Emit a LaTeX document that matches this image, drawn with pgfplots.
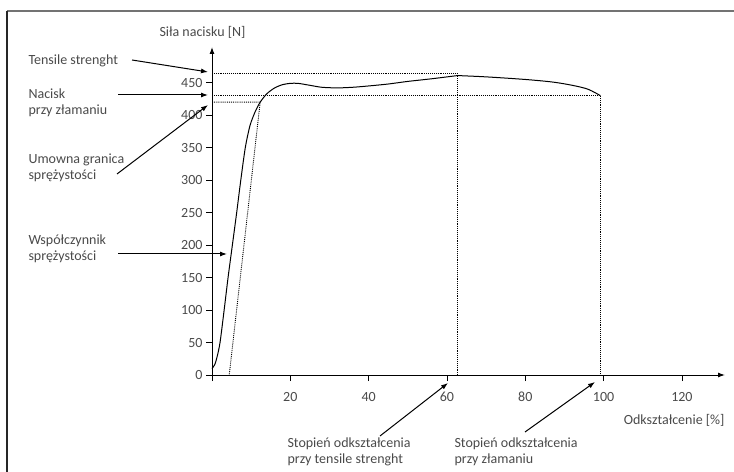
\documentclass[border=0pt]{standalone}
\usepackage{fontspec}
\setmainfont{Carlito}
\usepackage{pgfplots}
\pgfplotsset{compat=1.18}
\usetikzlibrary{arrows.meta}
\definecolor{txt}{HTML}{4A4A4A}
\begin{document}
\begin{tikzpicture}[font=\fontsize{14bp}{16bp}\selectfont]
\begin{scope}[x=1bp,y=-1bp,shift={(0,472bp)}]
\useasboundingbox (0,0) rectangle (734,472);
\draw[line width=1.3bp, black!55] (7,11) -- (734,11);
\draw[line width=1.3bp, black!85] (7,11) -- (7,472);
\end{scope}
\begin{axis}[
  at={(212bp,97bp)}, anchor=south west,
  scale only axis, width=513bp, height=328bp,
  xmin=0, xmax=131, ymin=0, ymax=505,
  axis lines=left, clip=false,
  axis line style={line width=1bp, -{Latex[length=7bp,width=5bp]}},
  xtick={0,20,40,60,80,100,120},
  xticklabels={,20,40,60,80,100,120},
  ytick={0,50,...,450},
  tick style={black, line width=0.8bp},
  major tick length=6bp, tick align=outside,
  tick label style={text=txt, font=\fontsize{14bp}{15bp}\selectfont},
  xticklabel style={anchor=north, text height=9.5bp, text depth=0bp, yshift=-7bp},
  /pgf/number format/assume math mode=true,
]
\addplot[black, line width=1bp, smooth, tension=0.45] coordinates {
(0,10) (0.7,16) (1.3,28) (2.05,50) (3.1,100) (4.1,150) (5.2,200) (6.3,250) (7.35,300) (8.5,350) (9.7,384) (11,405) (12.3,420) (14,433) (16,442) (18,447) (20,449) (22,449) (25,446) (28,443) (32,442) (36,443) (40,445) (45,448) (50,452) (56,456) (62.7,461)
};
\addplot[black, line width=1bp, smooth, tension=0.5] coordinates {
(62.7,461) (70,459) (80,455) (87,451) (92,446) (96,440) (99.2,430)
};
\addplot[black, densely dotted, line width=0.9bp] coordinates {(0,464) (62.7,464) (62.7,0)};
\addplot[black, densely dotted, line width=0.9bp] coordinates {(0,430) (99.2,430) (99.2,0)};
\addplot[black, densely dotted, line width=0.9bp] coordinates {(0,420) (12.3,420) (4.4,0)};
\end{axis}
\begin{scope}[x=1bp,y=-1bp,shift={(0,472bp)}]
\begin{scope}[text=txt]
\node[anchor=west] at (25,61) {Tensile strenght};
\node[anchor=west, align=left] at (25,103) {Nacisk\\przy złamaniu};
\node[anchor=west, align=left] at (25,168) {Umowna granica\\sprężystości};
\node[anchor=west, align=left] at (25,249) {Współczynnik\\sprężystości};
\node[anchor=west, align=left] at (284,452) {Stopień odkształcenia\\przy tensile strenght};
\node[anchor=west, align=left] at (451,452) {Stopień odkształcenia\\przy złamaniu};
\node[anchor=east] at (728,420) {Odkształcenie [\%]};
\node[anchor=west] at (156,32) {Siła nacisku [N]};
\end{scope}
\begin{scope}[line width=1bp, -{Latex[length=7bp,width=5bp]}]
\draw (132,60) -- (208,72);
\draw (118,95) -- (208,95);
\draw (117,174) -- (208,105);
\draw (118,254) -- (227,254);
\draw (380,436) -- (448,383);
\draw (525,432) -- (595,382);
\end{scope}
\end{scope}
\end{tikzpicture}
\end{document}
